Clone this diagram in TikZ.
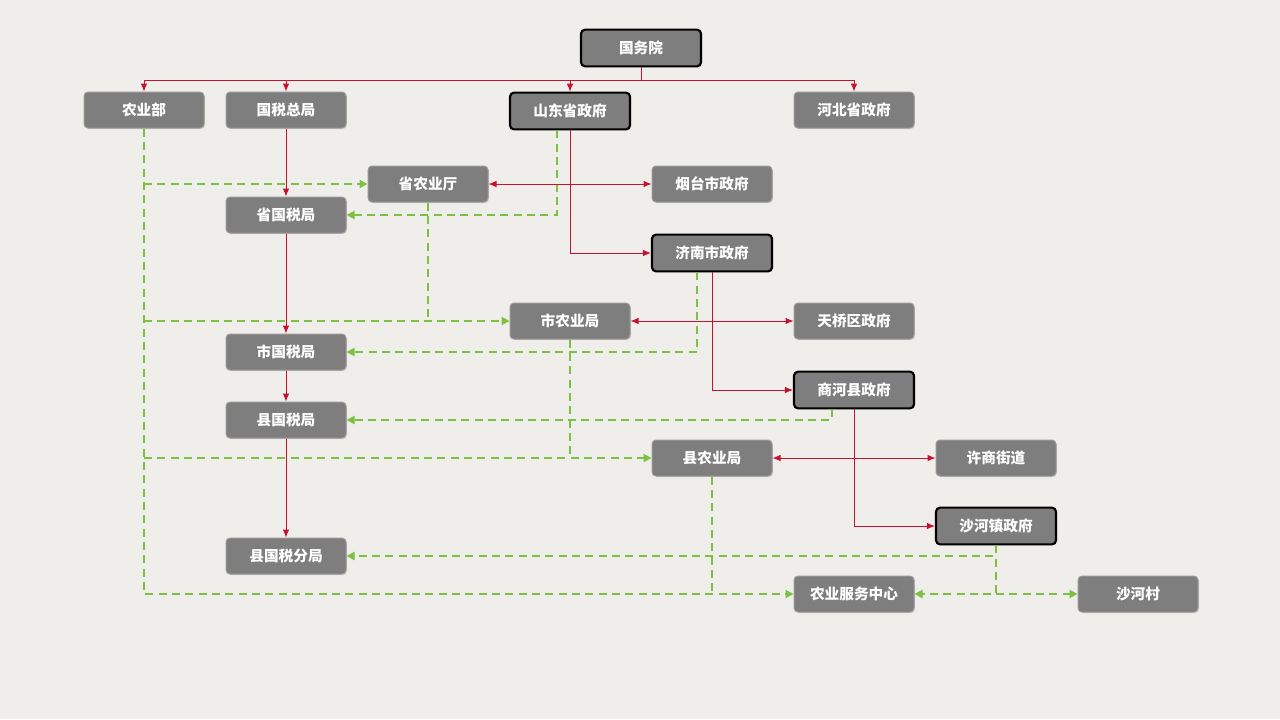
\documentclass[tikz,border=0pt]{standalone}
\usepackage{fontspec}
\setmainfont{Noto Sans CJK SC}
\usetikzlibrary{arrows.meta,calc,shadows}
\definecolor{bg}{HTML}{EFEEEA}
\definecolor{boxfill}{HTML}{7E7E7E}
\definecolor{boxedge}{HTML}{9A9A9A}
\definecolor{redc}{HTML}{C4122F}
\definecolor{greenc}{HTML}{7CC142}
\tikzset{
  box/.style={draw=boxedge, line width=0.75pt, fill=boxfill, rounded corners=3pt,
    minimum width=90pt, minimum height=27pt, inner sep=0pt, text=white,
    font=\fontsize{11pt}{13pt}\selectfont\bfseries,
    drop shadow={opacity=0.25, shadow xshift=0.8pt, shadow yshift=-0.8pt}},
  keybox/.style={box, draw=black, line width=1.6pt, minimum width=90pt, minimum height=27.5pt},
  redarr/.style={draw=redc, line width=0.75pt, -{Latex[length=6pt,width=5pt]}},
  redboth/.style={draw=redc, line width=0.75pt, {Latex[length=6pt,width=5pt]}-{Latex[length=6pt,width=5pt]}},
  redline/.style={draw=redc, line width=0.75pt},
  gline/.style={draw=greenc, line width=1.5pt, dash pattern=on 6pt off 4pt},
  garr/.style={gline, -{Triangle[length=6pt,width=6pt]}},
}
\begin{document}
\begin{tikzpicture}[x=0.75pt,y=-0.75pt]
\path[fill=bg] (0,0) rectangle (1280,719);
% nodes
\node[keybox] (gwy) at (641,48) {国务院};
\node[box] (nyb) at (144,110) {农业部};
\node[box] (gszj) at (286,110) {国税总局};
\node[keybox] (sdsf) at (570,111) {山东省政府};
\node[box] (hbsf) at (854,110) {河北省政府};
\node[box] (snyt) at (428,184) {省农业厅};
\node[box] (ytsf) at (712,184) {烟台市政府};
\node[box] (sgsj) at (286,215) {省国税局};
\node[keybox] (jnsf) at (712,253) {济南市政府};
\node[box] (snyj) at (570,321) {市农业局};
\node[box] (tqqf) at (854,321) {天桥区政府};
\node[box] (sgsj2) at (286,352) {市国税局};
\node[keybox] (shxf) at (854,390) {商河县政府};
\node[box] (xgsj) at (286,420) {县国税局};
\node[box] (xnyj) at (712,458) {县农业局};
\node[box] (xsjd) at (996,458) {许商街道};
\node[keybox] (shzf) at (996,526) {沙河镇政府};
\node[box] (xgsfj) at (286,556) {县国税分局};
\node[box] (fwzx) at (854,594) {农业服务中心};
\node[box] (shc) at (1138,594) {沙河村};
\coordinate (bus) at (0,80);
% green dashed
\draw[garr] (nyb.south) |- (fwzx.west);
\draw[garr] (nyb.south |- snyt) -- (snyt.west);
\draw[garr] (nyb.south |- snyj) -- (snyj.west);
\draw[garr] (nyb.south |- xnyj) -- (xnyj.west);
\draw[gline] (snyt.south) -- (snyt.south |- snyj);
\draw[gline] (snyj.south) -- (snyj.south |- xnyj);
\draw[gline] (xnyj.south) -- (xnyj.south |- fwzx);
\draw[garr] ($(sdsf.south)+(-13,0)$) |- (sgsj.east);
\draw[garr] ($(jnsf.south)+(-15,0)$) |- (sgsj2.east);
\draw[garr] ($(shxf.south)+(-22,0)$) |- (xgsj.east);
\draw[garr] (shzf.south) |- (xgsfj.east);
\draw[garr] (shzf.south) |- (fwzx.east);
\draw[garr] (shzf.south |- fwzx) -- (shc.west);
% red
\draw[redline] (gwy.south) -- (gwy.south |- bus);
\draw[redarr] (gwy.south |- bus) -| (nyb.north);
\draw[redarr] (gwy.south |- bus) -| (gszj.north);
\draw[redarr] (gwy.south |- bus) -| (sdsf.north);
\draw[redarr] (gwy.south |- bus) -| (hbsf.north);
\draw[redarr] (gszj) -- (sgsj);
\draw[redarr] (sgsj) -- (sgsj2);
\draw[redarr] (sgsj2) -- (xgsj);
\draw[redarr] (xgsj) -- (xgsfj);
\draw[redarr] (sdsf.south) |- (jnsf.west);
\draw[redarr] (jnsf.south) |- (shxf.west);
\draw[redarr] (shxf.south) |- (shzf.west);
\draw[redboth] (snyt) -- (ytsf);
\draw[redboth] (snyj) -- (tqqf);
\draw[redboth] (xnyj) -- (xsjd);
\end{tikzpicture}
\end{document}
